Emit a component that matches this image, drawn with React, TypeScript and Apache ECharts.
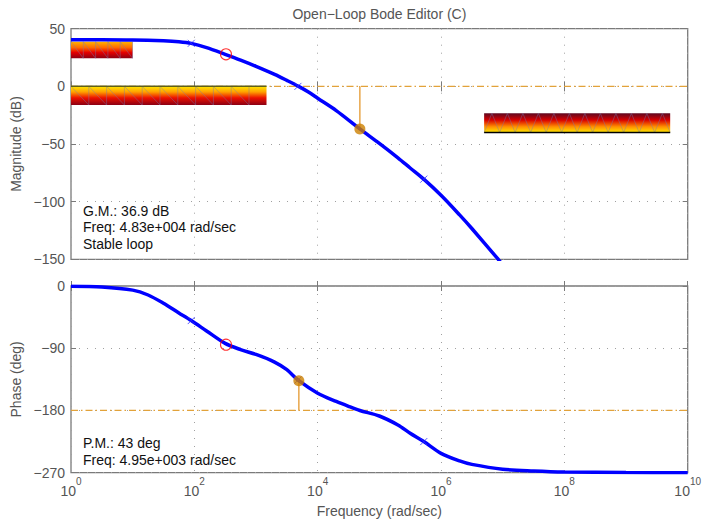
import React, { useEffect, useRef } from 'react';
import * as echarts from 'echarts';

// ---- data ----
const magFreq = [1, 3.16, 10, 31.6, 56.2, 89, 158, 316, 562, 1000, 2000, 3160, 4900, 7080, 10000, 20000, 48300, 100000, 200000, 316000, 525000, 1e6, 2e6, 3.16e6, 8.3e6, 1e7, 3.16e7, 1e8, 1e9, 1e10];
const magDb = [40.5, 40.5, 40.3, 39.5, 38.7, 37.3, 33.6, 27.8, 22.8, 17.4, 10.4, 5.2, 0, -4.9, -10.3, -21, -36.9, -49.5, -62, -70.8, -80.5, -94.5, -111.5, -123.3, -149.5, -155, -185, -215, -275, -335];

const phaseFreq = [1, 3.16, 10, 17.8, 31.6, 56.2, 89, 158, 316, 562, 1000, 2000, 3160, 4950, 10000, 20000, 31600, 48300, 100000, 200000, 316000, 525000, 1e6, 2e6, 3.16e6, 1e7, 3.16e7, 1e8, 1e9, 1e10];
const phaseDeg = [-0.5, -1.5, -6, -13, -25, -39, -50, -65, -83, -92, -99, -110, -121, -137, -155, -167, -174, -180, -188, -201, -213, -225, -242, -253, -258, -265, -267.5, -269, -269.8, -270];

const poleFreq = [89, 4790, 525000];
const poleMag = [37.3, 0, -80.5];
const polePhase = [-50, -136, -225];
const zeroFreq = [326];
const zeroMag = [27.8];
const zeroPhase = [-84.8];

const gmFreq = 48300;
const gmMag = -36.9;
const pmFreq = 4950;
const pmPhase = -137;
const magRef = 0;
const phaseRef = -180;

const constraintStart = [1, 1, 5.0e6];
const constraintEnd = [10, 1480, 5.2e9];
const constraintTop = [38.7, 0, -23.4];
const constraintBottom = [24.3, -16.2, -40];

const magTicks = [50, 0, -50, -100, -150];
const phaseTicks = [0, -90, -180, -270];

const FONT = '"Liberation Sans", Arial, Helvetica, sans-serif';
const GRAY = '#555555';
const FRAME = '#7a7a7a';

const fmtNum = (v: number) => (v < 0 ? '\u2212' + Math.abs(v) : String(v));

export default function App() {
  const ref = useRef<HTMLDivElement>(null);
  useEffect(() => {
    if (!ref.current) return;
    const chart = echarts.init(ref.current, null, { renderer: 'svg' });

    const grids = [
      { left: 71, right: 14.3, top: 28.7, height: 230.6, show: true, borderColor: FRAME, borderWidth: 1.3, containLabel: false, outerBoundsMode: 'none' },
      { left: 71, right: 14.3, top: 286, height: 186.7, show: true, borderColor: FRAME, borderWidth: 1.3, containLabel: false, outerBoundsMode: 'none' },
    ];

    const gridLine = { show: true, lineStyle: { color: '#a0a0a0', width: 1, type: [1, 7] } };

    const xAxisBase = (gridIndex: number, position: string, main: boolean, labels: boolean) => ({
      type: 'log',
      logBase: 100,
      min: 1,
      max: 1e10,
      gridIndex,
      position,
      axisLine: { show: false },
      axisTick: { show: true, inside: true, length: 5, lineStyle: { color: FRAME } },
      minorTick: { show: false },
      splitLine: main ? gridLine : { show: false },
      axisLabel: labels
        ? {
            show: true,
            margin: 4,
            showMinLabel: true,
            showMaxLabel: true,
            formatter: (v: number) => {
              const e = Math.round(Math.log10(v));
              return `{b|10}{e|${e}}`;
            },
            rich: {
              b: { fontSize: 14, fontFamily: FONT, color: GRAY, lineHeight: 28, verticalAlign: 'middle' },
              e: { fontSize: 10, fontFamily: FONT, color: GRAY, lineHeight: 14, verticalAlign: 'top' },
            },
          }
        : { show: false },
      ...(labels
        ? {
            name: 'Frequency (rad/sec)',
            nameLocation: 'middle',
            nameGap: 31,
            nameTextStyle: { fontSize: 14, fontFamily: FONT, color: GRAY },
          }
        : {}),
    });

    const yAxisBase = (gridIndex: number, position: string, main: boolean, min: number, max: number, interval: number, name?: string) => ({
      type: 'value',
      gridIndex,
      position,
      min,
      max,
      interval,
      axisLine: { show: false },
      axisTick: { show: true, inside: true, length: 5, lineStyle: { color: FRAME } },
      splitLine: main ? gridLine : { show: false },
      axisLabel: main
        ? { show: true, formatter: fmtNum, fontSize: 14, fontFamily: FONT, color: GRAY, margin: 6, showMinLabel: true, showMaxLabel: true }
        : { show: false },
      ...(name
        ? { name, nameLocation: 'middle', nameGap: 43, nameTextStyle: { fontSize: 14, fontFamily: FONT, color: GRAY } }
        : {}),
    });

    const constraintData = constraintStart.map((s, i) => [s, constraintEnd[i], constraintTop[i], constraintBottom[i], i]);

    const renderConstraint = (params: any, api: any) => {
      const x1 = api.value(0);
      const x2 = api.value(1);
      const yt = api.value(2);
      const yb = api.value(3);
      const kind = api.value(4);
      const p1 = api.coord([x1, yt]);
      const p2 = api.coord([x2, yb]);
      const left = p1[0];
      const top = p1[1];
      const w = p2[0] - p1[0];
      const h = p2[1] - p1[1];
      const bottom = top + h;
      let stops;
      if (kind === 0) {
        stops = [
          { offset: 0, color: '#ffb400' },
          { offset: 0.35, color: '#ff6a00' },
          { offset: 0.65, color: '#e40000' },
          { offset: 1, color: '#8c0012' },
        ];
      } else if (kind === 1) {
        stops = [
          { offset: 0, color: '#ffe800' },
          { offset: 0.3, color: '#ffa000' },
          { offset: 0.62, color: '#ec1000' },
          { offset: 1, color: '#8a0014' },
        ];
      } else {
        stops = [
          { offset: 0, color: '#5e0820' },
          { offset: 0.35, color: '#d80000' },
          { offset: 0.7, color: '#ff9000' },
          { offset: 1, color: '#ffe800' },
        ];
      }
      const children: any[] = [
        {
          type: 'rect',
          shape: { x: left, y: top, width: w, height: h },
          style: { fill: new echarts.graphic.LinearGradient(0, 0, 0, 1, stops) },
        },
      ];
      const pts: number[][] = [];
      if (kind === 2) {
        const step = 15.5;
        let x = left;
        pts.push([x, bottom]);
        let up = true;
        while (x + step / 2 <= left + w + 0.1) {
          x += step / 2;
          pts.push([x, up ? top : bottom]);
          up = !up;
        }
      } else {
        const step = kind === 0 ? 12.3 : 17.8;
        let x = left;
        pts.push([x, top]);
        while (x + step <= left + w + 0.1) {
          x += step;
          pts.push([x, bottom]);
          pts.push([x, top]);
        }
      }
      children.push({
        type: 'polyline',
        shape: { points: pts },
        style: { stroke: 'rgba(120,120,175,0.7)', lineWidth: 0.6, fill: 'none' },
      });
      if (kind === 1) {
        children.push({ type: 'line', shape: { x1: left, y1: top, x2: left + w, y2: top }, style: { stroke: '#5f5f18', lineWidth: 1.5 } });
      }
      if (kind === 2) {
        children.push({ type: 'line', shape: { x1: left, y1: bottom, x2: left + w, y2: bottom }, style: { stroke: '#000000', lineWidth: 1.5 } });
      }
      return { type: 'group', children };
    };

    const refLine = { color: '#e2a23a', width: 1.3, type: [7, 3, 1.5, 3] };
    const xSymbol = 'path://M0,0L10,10M0,10L10,0';

    const option: any = {
      animation: false,
      textStyle: { fontFamily: FONT },
      grid: grids,
      xAxis: [
        xAxisBase(0, 'bottom', true, false),
        xAxisBase(0, 'top', false, false),
        xAxisBase(1, 'bottom', true, true),
        xAxisBase(1, 'top', false, false),
      ],
      yAxis: [
        yAxisBase(0, 'left', true, magTicks[magTicks.length - 1], magTicks[0], 50, 'Magnitude (dB)'),
        yAxisBase(0, 'right', false, magTicks[magTicks.length - 1], magTicks[0], 50),
        yAxisBase(1, 'left', true, phaseTicks[phaseTicks.length - 1], phaseTicks[0], 90, 'Phase (deg)'),
        yAxisBase(1, 'right', false, phaseTicks[phaseTicks.length - 1], phaseTicks[0], 90),
      ],
      graphic: [
        {
          type: 'text',
          x: 379.4,
          y: 14,
          style: { text: 'Open\u2212Loop Bode Editor (C)', font: `14px ${FONT}`, fill: GRAY, textAlign: 'center', textVerticalAlign: 'middle', align: 'center', verticalAlign: 'middle' },
        },
        ...['G.M.: 36.9 dB', 'Freq: 4.83e+004 rad/sec', 'Stable loop'].map((t, i) => ({
          type: 'text',
          x: 83,
          y: 211 + i * 16.3,
          style: { text: t, font: `14px ${FONT}`, fill: '#111111', textVerticalAlign: 'middle', verticalAlign: 'middle' },
        })),
        ...['P.M.: 43 deg', 'Freq: 4.95e+003 rad/sec'].map((t, i) => ({
          type: 'text',
          x: 83,
          y: 443.3 + i * 16.3,
          style: { text: t, font: `14px ${FONT}`, fill: '#111111', textVerticalAlign: 'middle', verticalAlign: 'middle' },
        })),
      ],
      series: [
        {
          type: 'line',
          xAxisIndex: 0,
          yAxisIndex: 0,
          data: [[1, magRef], [1e10, magRef]],
          symbol: 'none',
          lineStyle: refLine,
          z: 1,
          silent: true,
        },
        {
          type: 'line',
          xAxisIndex: 2,
          yAxisIndex: 2,
          data: [[1, phaseRef], [1e10, phaseRef]],
          symbol: 'none',
          lineStyle: refLine,
          z: 1,
          silent: true,
        },
        {
          type: 'custom',
          xAxisIndex: 0,
          yAxisIndex: 0,
          data: constraintData,
          encode: { x: [0, 1], y: [2, 3] },
          renderItem: renderConstraint,
          z: 2,
          silent: true,
        },
        {
          type: 'line',
          xAxisIndex: 0,
          yAxisIndex: 0,
          data: [[gmFreq, magRef], [gmFreq, gmMag]],
          symbol: 'none',
          lineStyle: { color: '#e8a64a', width: 1.5 },
          z: 3,
        },
        {
          type: 'line',
          xAxisIndex: 2,
          yAxisIndex: 2,
          data: [[pmFreq, pmPhase], [pmFreq, phaseRef]],
          symbol: 'none',
          lineStyle: { color: '#e8a64a', width: 1.5 },
          z: 3,
        },
        {
          type: 'line',
          xAxisIndex: 0,
          yAxisIndex: 0,
          data: magFreq.map((f, i) => [f, magDb[i]]),
          symbol: 'none',
          smooth: 0.3,
          lineStyle: { color: '#0000ff', width: 3.5 },
          z: 4,
        },
        {
          type: 'line',
          xAxisIndex: 2,
          yAxisIndex: 2,
          data: phaseFreq.map((f, i) => [f, phaseDeg[i]]),
          symbol: 'none',
          smooth: 0.3,
          lineStyle: { color: '#0000ff', width: 3.5 },
          z: 4,
        },
        {
          type: 'scatter',
          xAxisIndex: 0,
          yAxisIndex: 0,
          data: poleFreq.map((f, i) => [f, poleMag[i]]),
          symbol: xSymbol,
          symbolSize: 7,
          itemStyle: { color: 'rgba(0,0,0,0)', borderColor: '#3030ff', borderWidth: 1 },
          z: 5,
        },
        {
          type: 'scatter',
          xAxisIndex: 2,
          yAxisIndex: 2,
          data: poleFreq.map((f, i) => [f, polePhase[i]]),
          symbol: xSymbol,
          symbolSize: 7,
          itemStyle: { color: 'rgba(0,0,0,0)', borderColor: '#3030ff', borderWidth: 1 },
          z: 5,
        },
        {
          type: 'scatter',
          xAxisIndex: 0,
          yAxisIndex: 0,
          data: zeroFreq.map((f, i) => [f, zeroMag[i]]),
          symbol: 'circle',
          symbolSize: 11,
          itemStyle: { color: 'rgba(0,0,0,0)', borderColor: '#ff0000', borderWidth: 1.1 },
          z: 5,
        },
        {
          type: 'scatter',
          xAxisIndex: 2,
          yAxisIndex: 2,
          data: zeroFreq.map((f, i) => [f, zeroPhase[i]]),
          symbol: 'circle',
          symbolSize: 11,
          itemStyle: { color: 'rgba(0,0,0,0)', borderColor: '#ff0000', borderWidth: 1.1 },
          z: 5,
        },
        {
          type: 'scatter',
          xAxisIndex: 0,
          yAxisIndex: 0,
          data: [[gmFreq, gmMag]],
          symbol: 'circle',
          symbolSize: 11,
          itemStyle: { color: '#cc8000' },
          z: 6,
        },
        {
          type: 'scatter',
          xAxisIndex: 2,
          yAxisIndex: 2,
          data: [[pmFreq, pmPhase]],
          symbol: 'circle',
          symbolSize: 11,
          itemStyle: { color: '#cc8000' },
          z: 6,
        },
      ],
    };

    chart.setOption(option);
    return () => chart.dispose();
  }, []);

  return (
    <div
      ref={ref}
      style={{ position: 'fixed', left: 0, top: 0, width: 702, height: 524, background: '#ffffff' }}
    />
  );
}
